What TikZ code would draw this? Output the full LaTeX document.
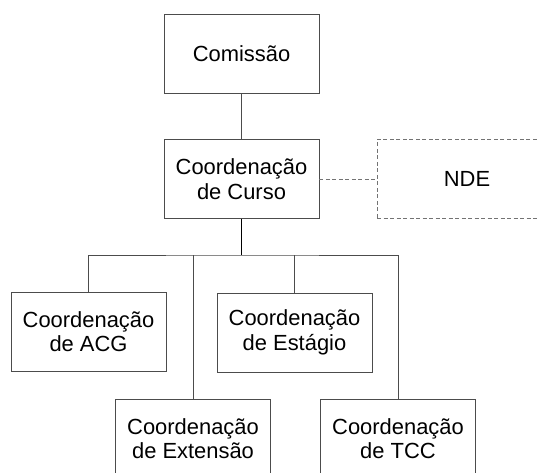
\documentclass[tikz,border=0pt]{standalone}
\usepackage{fontspec}
\setmainfont{Liberation Sans}
\begin{document}
\begin{tikzpicture}[x=1bp,y=-1bp,
 orgbox/.style={draw=black!70,line width=0.9bp,minimum width=155bp,minimum height=79bp,inner sep=0pt,align=center,font=\fontsize{22}{24.5}\selectfont},
 linha/.style={draw=black!70,line width=0.9bp}]
 \useasboundingbox (0,0) rectangle (539,473);
 \node[orgbox] (comissao) at (241.5,53.5) {Comissão};
 \node[orgbox] (curso) at (241.5,179) {Coordenação\\de Curso};
 \node[orgbox,draw=black!55,minimum width=180bp,dash pattern=on 4bp off 2.5bp] (nde) at (467,179) {NDE};
 \node[orgbox] (acg) at (88.5,331.5) {Coordenação\\de ACG};
 \node[orgbox] (estagio) at (294.5,332.5) {Coordenação\\de Estágio};
 \node[orgbox] (extensao) at (193,438.5) {Coordenação\\de Extensão};
 \node[orgbox] (tcc) at (398,438.5) {Coordenação\\de TCC};
 \coordinate (bus) at (241.5,255);
 \draw[linha] (comissao) -- (curso);
 \draw[linha,draw=black!55,dash pattern=on 4bp off 2.5bp] (curso) -- (nde);
 \draw[draw=black,line width=1.3bp] (curso) -- (bus);
 \draw[linha] (acg.north) |- (bus) -| (tcc.north);
 \draw[linha] (extensao.north) -- (extensao.north |- bus);
 \draw[linha] (estagio.north) -- (estagio.north |- bus);
\end{tikzpicture}
\end{document}
